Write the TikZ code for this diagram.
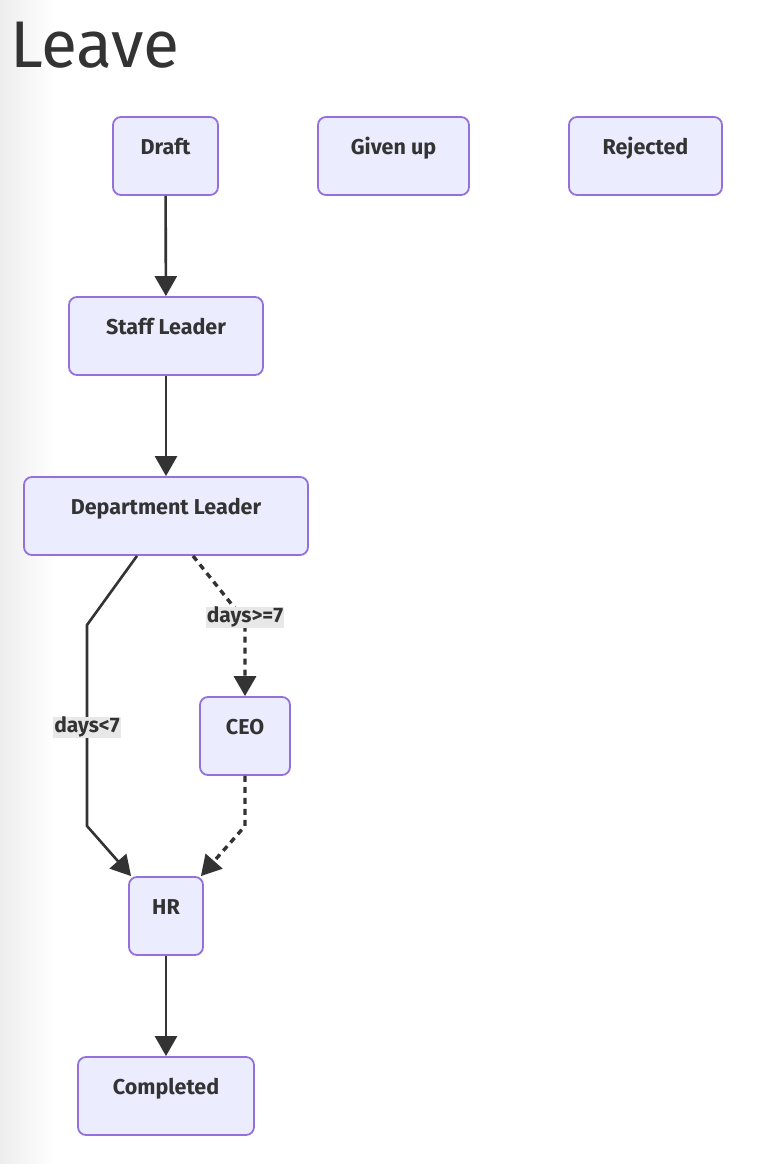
\documentclass[tikz,border=0pt]{standalone}
\usepackage{fontspec}
\setmainfont{Fira Sans}
\usetikzlibrary{arrows.meta}
\definecolor{nodefill}{HTML}{ECECFF}
\definecolor{nodeline}{HTML}{9370DB}
\definecolor{ink}{HTML}{333333}
\definecolor{lblbg}{HTML}{E8E8E8}
\tikzset{
  box/.style={draw=nodeline, fill=nodefill, line width=1.8pt, rounded corners=8pt,
    text=ink, font=\fontsize{21.5}{21.5}\selectfont\bfseries,
    inner xsep=0pt, inner ysep=0pt, text height=37pt, text depth=41pt},
  conn/.style={draw=ink, line width=2.6pt, -{Triangle[length=20pt,width=22pt]}},
  dotconn/.style={conn, line width=3.4pt, dash pattern=on 6pt off 5pt},
  lbl/.style={fill=lblbg, text=ink, font=\fontsize{21}{21}\selectfont\bfseries,
    inner xsep=1pt, inner ysep=0pt, text height=15pt, text depth=6pt}
}
\begin{document}
\begin{tikzpicture}[x=1pt,y=-1pt]
\useasboundingbox (0,0) rectangle (756,1164);
\shade[left color=black!7, right color=white] (0,0) rectangle (55,1164);
\node[anchor=base west, text=ink, font=\fontsize{66}{66}\selectfont, inner sep=0pt] (title) at (10,67) {Leave};
\node[box, minimum width=105pt] (draft) at (165.5,156) {Draft};
\node[box, minimum width=151pt] (given) at (393.5,156) {Given up};
\node[box, minimum width=153pt] (rejected) at (645.5,156) {Rejected};
\node[box, minimum width=194pt] (staff) at (166,336) {Staff Leader};
\node[box, minimum width=284pt] (dept) at (166,516) {Department Leader};
\node[box, minimum width=90pt] (ceo) at (245,736) {CEO};
\node[box, minimum width=74pt] (hr) at (166,916) {HR};
\node[box, minimum width=176pt] (done) at (166,1096) {Completed};
\coordinate (b1) at (87,625);
\coordinate (b2) at (87,826);
\coordinate (c1) at (245,621);
\coordinate (c2) at (245,826);
\draw[conn] (draft) -- (staff);
\draw[conn] (staff) -- (dept);
\draw[conn] ([xshift=-29pt]dept.south) -- (b1) -- (b2) -- ([xshift=3pt]hr.north west);
\draw[dotconn] ([xshift=27pt]dept.south) -- (c1) -- (ceo.north);
\draw[dotconn] (ceo.south) -- (c2) -- ([xshift=-3pt]hr.north east);
\draw[conn] (hr) -- (done);
\node[lbl] (l1) at (87,727.5) {days<7};
\node[lbl] (l2) at (245,617.5) {days>=7};
\end{tikzpicture}
\end{document}
